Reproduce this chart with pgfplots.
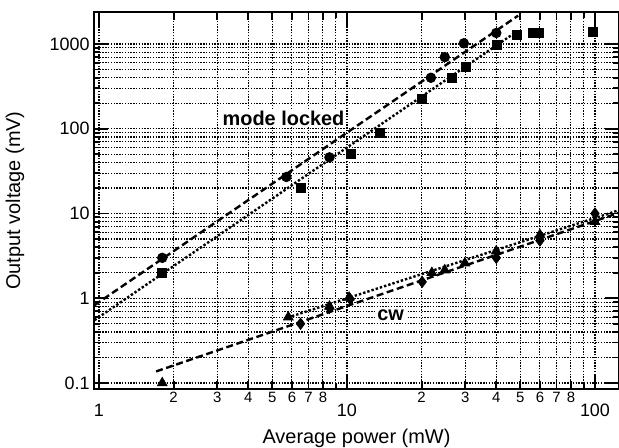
\documentclass[border=0pt]{standalone}
\usepackage{fontspec}
\setmainfont{Liberation Sans}
\usepackage{pgfplots}
\pgfplotsset{compat=1.18}
\begin{document}
\begin{tikzpicture}
\begin{axis}[
  at={(47bp,29.5bp)}, anchor=south west,
  scale only axis, width=262.5bp, height=188.5bp,
  xmode=log, ymode=log,
  xmin=0.955, xmax=125, ymin=0.085, ymax=2387,
  xtick={1,10,100}, xticklabels={1,10,100},
  ytick={0.1,1,10,100,1000}, yticklabels={0.1,1,10,100,1000},
  extra x ticks={2,3,4,5,6,7,8,20,30,40,50,60,70,80},
  extra x tick labels={2,3,4,5,6,7,8,2,3,4,5,6,7,8},
  extra x tick style={major tick length=4bp,
    xticklabel style={font=\fontsize{7.5}{8}\selectfont, yshift=6.5bp}},
  xticklabel style={anchor=center, yshift=-10.5bp},
  yticklabel style={inner sep=2bp},
  tick label style={font=\fontsize{9}{10}\selectfont},
  /pgf/number format/assume math mode=true,
  tick align=inside,
  major tick length=7bp, minor tick length=3bp,
  every tick/.style={black, line width=0.9bp},
  axis line style={line width=1.3bp},
  grid=both,
  major grid style={black, line width=0.55bp, dash pattern=on 0.7bp off 0.7bp},
  minor grid style={black, line width=0.55bp, dash pattern=on 0.7bp off 0.7bp},
  xlabel={Average power (mW)},
  ylabel={Output voltage (mV)},
  label style={font=\fontsize{9.5}{11}\selectfont},
  every axis x label/.style={at={(axis description cs:0.5,-0.13)}, anchor=center},
  every axis y label/.style={at={(axis description cs:-0.1505,0.5)}, rotate=90, anchor=center},
  clip=false,
]
% mode locked fits
\addplot[black, line width=1.2bp, dash pattern=on 3.5bp off 1.8bp] coordinates {(0.96,0.83) (49,2161)};
\addplot[black, line width=1.2bp, dash pattern=on 1.2bp off 1bp] coordinates {(0.96,0.553) (48.5,1411)};
% cw fits
\addplot[black, line width=1.2bp, dash pattern=on 3.5bp off 1.8bp] coordinates {(1.7,0.137) (125,10.2)};
\addplot[black, line width=1.2bp, dash pattern=on 1.2bp off 1bp] coordinates {(6,0.615) (125,10.95)};
% mode locked data
\addplot[only marks, mark=*, mark size=2.4bp, black] coordinates {
  (1.8,3) (5.7,27) (8.5,46) (21.8,400) (24.8,700) (29.6,1020) (40,1350)};
\addplot[only marks, mark=square*, mark size=2.3bp, black] coordinates {
  (1.8,2) (6.5,20) (10.4,50) (13.6,89) (20.1,224) (26.5,400) (30.2,535)
  (40.2,970) (48.5,1280) (56,1340) (59.5,1350) (98,1390)};
% cw data
\addplot[only marks, mark=triangle*, mark size=2.8bp, black] coordinates {
  (1.8,0.1) (5.8,0.6) (8.5,0.8) (10.2,1.02) (22,2.0) (24.8,2.15) (29.9,2.6)
  (40,3.6) (60,5.6) (100,8)};
\addplot[only marks, mark=diamond*, mark size=2.8bp, black] coordinates {
  (6.5,0.5) (8.5,0.77) (10.3,0.98) (20.1,1.56) (40,3.0) (60,4.8) (100,10)};
\node[fill=white, inner sep=1bp, font=\bfseries\fontsize{10}{12}\selectfont] at (axis cs:5.55,134) {mode locked};
\node[fill=white, inner sep=1bp, font=\bfseries\fontsize{10}{12}\selectfont] at (axis cs:15,0.634) {cw};
\end{axis}
\pgfresetboundingbox
\useasboundingbox (0,0) rectangle (309.5bp,224bp);
\end{tikzpicture}
\end{document}
